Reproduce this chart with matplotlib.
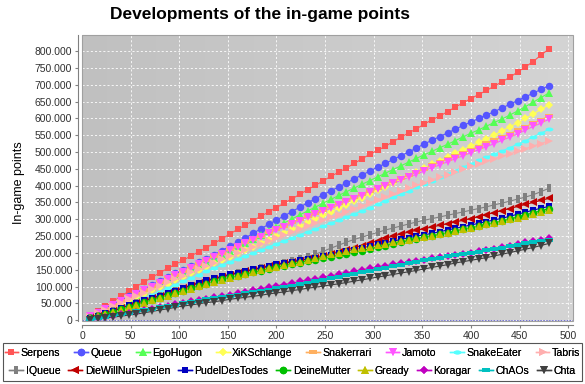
import numpy as np
import matplotlib
matplotlib.use("Agg")
import matplotlib.pyplot as plt
from matplotlib.lines import Line2D
from matplotlib.patches import Rectangle
from matplotlib.path import Path
from matplotlib.transforms import Affine2D
from matplotlib.ticker import FuncFormatter, MultipleLocator

plt.rcParams['font.family'] = ['Liberation Sans', 'DejaVu Sans']

# Data (games played, points in thousands)
GAMES = list(range(8, 481, 8))

SERPENS = [12, 27, 41, 56, 71, 86, 100, 114, 127, 141, 154, 166, 178, 191, 203, 216, 229, 242, 256, 270,
           283, 296, 309, 322, 335, 348, 361, 374, 388, 401, 414, 428, 440, 453, 466, 480, 493, 505, 517, 531,
           544, 557, 569, 583, 596, 607, 620, 634, 646, 659, 671, 683, 696, 709, 722, 738, 753, 769, 788, 806]
QUEUE = [11, 23, 35, 47, 59, 71, 82, 94, 105, 117, 128, 139, 150, 161, 172, 183, 195, 207, 220, 232,
         245, 258, 272, 285, 298, 310, 323, 336, 349, 361, 373, 385, 396, 408, 420, 432, 443, 455, 466, 478,
         489, 500, 512, 524, 535, 546, 557, 568, 579, 589, 600, 610, 620, 631, 642, 653, 664, 675, 686, 697]
EGOHUGON = [10, 21, 32, 43, 54, 65, 76, 87, 98, 109, 120, 131, 141, 152, 162, 173, 184, 195, 206, 218,
            229, 241, 253, 265, 277, 289, 301, 313, 325, 336, 348, 359, 371, 382, 393, 404, 415, 426, 437, 448,
            459, 470, 481, 492, 502, 513, 523, 534, 545, 556, 566, 577, 588, 598, 610, 622, 635, 648, 662, 675]
XIKSCHLANGE = [9, 19, 29, 39, 49, 59, 69, 79, 89, 99, 109, 119, 129, 139, 149, 159, 169, 179, 189, 199,
               209, 219, 229, 239, 249, 259, 270, 280, 291, 301, 312, 322, 333, 343, 354, 364, 375, 386, 397, 408,
               419, 430, 441, 452, 463, 474, 485, 496, 507, 518, 529, 540, 551, 563, 575, 587, 600, 613, 627, 640]
SNAKERRARI = [10, 21, 33, 45, 57, 68, 79, 91, 102, 113, 124, 135, 146, 157, 168, 179, 190, 201, 211, 221,
              231, 241, 251, 261, 271, 281, 291, 300, 310, 320, 329, 338, 348, 357, 366, 376, 385, 394, 404, 413,
              422, 432, 441, 451, 460, 469, 479, 488, 497, 507, 516, 526, 535, 545, 555, 565, 575, 586, 596, 607]
JAMOTO = [11, 22, 33, 44, 56, 67, 78, 89, 100, 111, 122, 133, 144, 155, 166, 177, 187, 198, 208, 218,
          228, 238, 248, 258, 267, 277, 287, 296, 306, 315, 324, 333, 343, 352, 361, 370, 380, 389, 398, 407,
          416, 425, 434, 444, 453, 462, 471, 480, 489, 498, 507, 516, 525, 535, 544, 554, 565, 576, 586, 597]
SNAKEEATER = [6, 13, 21, 29, 38, 47, 56, 65, 75, 85, 95, 105, 115, 125, 135, 145, 155, 164, 173, 182,
              191, 200, 209, 218, 227, 236, 245, 254, 263, 271, 280, 289, 298, 307, 316, 325, 335, 345, 355, 365,
              375, 385, 395, 405, 415, 425, 435, 445, 455, 465, 475, 485, 494, 503, 513, 523, 533, 545, 556, 567]
TABRIS = [10, 20, 31, 41, 51, 62, 72, 82, 92, 102, 112, 122, 132, 142, 152, 161, 171, 181, 190, 199,
          209, 218, 227, 236, 245, 254, 263, 271, 280, 289, 297, 306, 314, 323, 332, 340, 349, 358, 366, 375,
          384, 392, 401, 409, 417, 425, 433, 441, 449, 457, 465, 472, 480, 487, 495, 503, 510, 518, 525, 533]
IQUEUE = [5, 12, 19, 26, 34, 42, 50, 57, 64, 71, 79, 86, 94, 101, 108, 115, 121, 127, 133, 139,
          144, 149, 154, 159, 164, 170, 176, 182, 189, 196, 205, 214, 223, 232, 240, 247, 254, 261, 268, 274,
          280, 286, 292, 297, 302, 307, 312, 317, 322, 327, 332, 337, 343, 348, 354, 360, 366, 373, 382, 392]
DIEWILLNURSPIELEN = [6, 12, 19, 27, 35, 43, 51, 58, 65, 72, 80, 87, 95, 103, 110, 117, 123, 129, 135, 140,
                     145, 150, 155, 160, 165, 169, 173, 177, 181, 186, 191, 197, 203, 209, 215, 222, 229, 236, 243, 250,
                     256, 262, 267, 272, 277, 282, 287, 292, 297, 302, 308, 314, 320, 326, 332, 338, 344, 350, 356, 362]
PUDELDESTODES = [6, 13, 20, 28, 36, 44, 52, 59, 66, 73, 81, 88, 96, 104, 111, 118, 124, 130, 136, 141,
                 146, 151, 156, 161, 166, 170, 174, 178, 182, 186, 190, 195, 200, 205, 210, 215, 220, 225, 230, 235,
                 240, 245, 250, 254, 258, 263, 268, 273, 278, 283, 288, 293, 298, 303, 309, 315, 321, 327, 333, 338]
DEINEMUTTER = [5, 11, 18, 25, 32, 39, 46, 53, 60, 67, 74, 81, 88, 95, 102, 109, 115, 121, 127, 132,
               137, 142, 147, 152, 157, 162, 167, 171, 176, 180, 184, 188, 193, 197, 202, 207, 212, 217, 222, 227,
               232, 237, 242, 246, 251, 255, 260, 265, 270, 275, 280, 285, 290, 295, 301, 307, 313, 319, 325, 332]
GREADY = [5, 11, 17, 24, 31, 38, 45, 52, 59, 66, 73, 80, 87, 94, 101, 108, 114, 120, 126, 132,
          138, 143, 149, 154, 159, 164, 169, 174, 179, 184, 190, 196, 201, 206, 211, 215, 219, 223, 227, 231,
          235, 239, 243, 247, 251, 255, 260, 265, 270, 275, 280, 285, 290, 295, 300, 305, 310, 315, 321, 327]
KORAGAR = [2, 5, 9, 13, 17, 21, 25, 29, 34, 38, 43, 48, 52, 56, 60, 64, 68, 72, 76, 80,
           85, 89, 94, 98, 102, 106, 110, 115, 119, 123, 127, 132, 136, 141, 145, 150, 154, 158, 162, 166,
           170, 173, 177, 180, 184, 187, 190, 194, 197, 201, 205, 209, 213, 218, 222, 227, 231, 235, 239, 243]
CHAOS = [3, 6, 10, 14, 18, 22, 26, 30, 34, 38, 42, 46, 50, 54, 58, 62, 65, 69, 72, 76,
         80, 83, 87, 91, 95, 99, 103, 107, 111, 115, 119, 124, 128, 133, 137, 142, 146, 151, 155, 160,
         165, 169, 174, 178, 182, 186, 190, 194, 197, 200, 204, 208, 212, 216, 220, 224, 228, 231, 235, 238]
CHTA = [1, 3, 6, 9, 12, 15, 18, 22, 26, 30, 34, 38, 42, 45, 49, 52, 55, 58, 62, 65,
        68, 71, 74, 78, 81, 84, 88, 91, 95, 98, 101, 105, 108, 112, 116, 120, 124, 128, 132, 136,
        140, 144, 148, 152, 157, 161, 165, 170, 174, 178, 182, 186, 191, 196, 201, 206, 211, 216, 222, 228]

PLAYERS = ["Serpens", "Queue", "EgoHugon", "XiKSchlange", "Snakerrari", "Jamoto", "SnakeEater", "Tabris",
           "IQueue", "DieWillNurSpielen", "PudelDesTodes", "DeineMutter", "Gready", "Koragar", "ChAOs", "Chta"]
POINTS = [SERPENS, QUEUE, EGOHUGON, XIKSCHLANGE, SNAKERRARI, JAMOTO, SNAKEEATER, TABRIS,
          IQUEUE, DIEWILLNURSPIELEN, PUDELDESTODES, DEINEMUTTER, GREADY, KORAGAR, CHAOS, CHTA]

# Styles (JFreeChart-like)
COLORS = ["#ff5555", "#5555ff", "#55ff55", "#ffff55", "#ffb060", "#ff55ff", "#55ffff", "#ffafaf",
          "#808080", "#c00000", "#0000c0", "#00c000", "#c0c000", "#c000c0", "#00c0c0", "#404040"]

HRECT = [(-1, -0.5), (1, -0.5), (1, 0.5), (-1, 0.5), (-1, -0.5)]
VRECT = [(-0.5, -1), (0.5, -1), (0.5, 1), (-0.5, 1), (-0.5, -1)]
HELLIPSE = Path.unit_circle().transformed(Affine2D().scale(1, 0.5))
MARKERS = ["s", "o", "^", "D", HRECT, "v", HELLIPSE, ">", VRECT, "<", "s", "o", "^", "D", HRECT, "v"]
SIZES = [5, 5.4, 5.6, 4.2, 5.6, 5.6, 5.6, 5.6, 5.6, 5.6, 5, 5.4, 5.6, 4.2, 5.6, 5.6]

W, H = 585, 384
fig = plt.figure(figsize=(W / 100, H / 100), dpi=100)
fig.patch.set_facecolor("white")

left, right, top, bottom = 82, 573, 35, 321
ax = fig.add_axes([left / W, 1 - bottom / H, (right - left) / W, (bottom - top) / H])

# gradient background
grad = np.linspace(0, 1, 256).reshape(1, -1)
ax.imshow(grad, extent=[0, 1, 0, 1], transform=ax.transAxes, aspect="auto",
          cmap=matplotlib.colors.LinearSegmentedColormap.from_list("bg", ["#c0c0c0", "#d4d4d4"]),
          zorder=0, interpolation="bilinear")

x = np.array(GAMES)
for name, vals, c in zip(PLAYERS, POINTS, COLORS):
    ax.plot(x, np.array(vals) * 1000, color=c, lw=0.8, zorder=2)
for name, vals, c, m, s in zip(PLAYERS, POINTS, COLORS, MARKERS, SIZES):
    ax.plot(x, np.array(vals) * 1000, ls="none", marker=m, ms=s, mew=0, color=c, zorder=3)

ax.set_xlim(0, 505)
ax.set_ylim(-2500, 848000)
ax.xaxis.set_major_locator(MultipleLocator(50))
ax.yaxis.set_major_locator(MultipleLocator(50000))
ax.yaxis.set_major_formatter(FuncFormatter(lambda v, p: f"{int(round(v)):,}".replace(",", ".")))

ax.grid(True, color="white", lw=0.6, linestyle=(0, (2.5, 2.5)), zorder=1)
ax.set_axisbelow(True)
ax.axhline(0, color="#7070d8", lw=0.7, linestyle=(0, (1.5, 1.5)), zorder=1.5)
ax.axvline(0, color="#7070d8", lw=0.7, linestyle=(0, (1.5, 1.5)), zorder=1.5)

for sp in ["top", "right"]:
    ax.spines[sp].set_visible(False)
for sp in ["left", "bottom"]:
    ax.spines[sp].set_position(("outward", 3))
    ax.spines[sp].set_color("#808080")
    ax.spines[sp].set_linewidth(0.8)
ax.add_patch(Rectangle((0, 0), 1, 1, transform=ax.transAxes, fill=False,
                       edgecolor="#a0a0a0", lw=0.8, clip_on=False, zorder=4))
ax.tick_params(direction="out", length=2, width=0.8, color="#808080", labelsize=7.5,
               labelcolor="#303030", pad=2)

fig.text(260 / W, 1 - 14 / H, "Developments of the in-game points", ha="center", va="center",
         fontsize=12.5, fontweight="bold")
fig.text(19 / W, 1 - 183 / H, "In-game points", rotation=90, ha="center", va="center", fontsize=9)

# legend: two flow rows inside one box
fig.add_artist(Rectangle((3 / W, 1 - 381 / H), 579 / W, 38 / H, transform=fig.transFigure,
                         facecolor="white", edgecolor="#555555", lw=0.8))
handles = [Line2D([], [], color=c, marker=m, ms=s, mew=0, lw=1)
           for c, m, s in zip(COLORS, MARKERS, SIZES)]
for row, (yc, gap) in enumerate([(353, 1.3), (371, 0.75)]):
    sl = slice(row * 8, row * 8 + 8)
    leg = fig.legend(handles[sl], PLAYERS[sl], loc="center", bbox_to_anchor=(292.5 / W, 1 - yc / H),
                     ncol=8, frameon=False, fontsize=7.6, handlelength=1.3, handletextpad=0.25,
                     columnspacing=gap, borderaxespad=0, borderpad=0)
    fig.add_artist(leg)

fig.savefig("out.png", dpi=100)
